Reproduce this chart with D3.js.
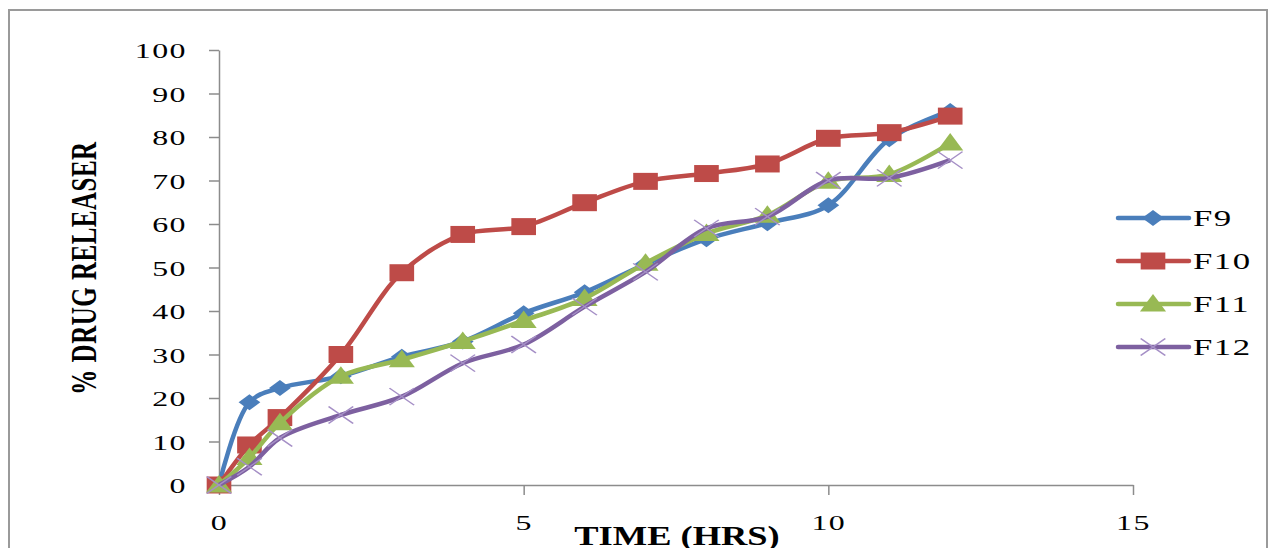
<!DOCTYPE html>
<meta charset="utf-8">
<style>
body { margin: 0; background: #fff; }
.axis path, .axis line { stroke: #8c8c8c; stroke-width: 1.5px; }
.axis text { font-family: "Liberation Serif", serif; font-size: 22px; fill: #000; letter-spacing: 1px; }
.title { font-family: "Liberation Serif", serif; font-weight: bold; font-size: 25px; fill: #000; }
.legend text { font-family: "Liberation Serif", serif; font-size: 24px; fill: #000; letter-spacing: 1px; }
</style>
<svg width="1275" height="548"></svg>
<script src="https://d3js.org/d3.v7.min.js"></script>
<script>

// data
var time = [0, 0.5, 1, 2, 3, 4, 5, 6, 7, 8, 9, 10, 11, 12];
var f9  = [0, 19, 22.3, 25, 29.5, 33, 39.5, 44.3, 50.8, 56.5, 60.2, 64.3, 79.5, 86];
var f10 = [0, 9.2, 15.5, 30, 48.8, 57.6, 59.4, 64.9, 69.8, 71.6, 73.8, 79.7, 81, 84.8];
var f11 = [0, 6.3, 14.3, 25, 28.8, 33, 37.8, 42.9, 51, 57.8, 62, 69.8, 71.4, 78.6];
var f12 = [0, 4.2, 10.8, 16.1, 20.3, 28, 32.3, 41, 49, 59, 61.7, 70, 70.6, 74.7];
var names = ["F9", "F10", "F11", "F12"];
var colors = ["#4a7ebb", "#be4b48", "#98b954", "#7d60a0"];
var shapes = ["diamond", "square", "triangle", "cross"];
var xTicks = [0, 5, 10, 15];
var yTicks = [0, 10, 20, 30, 40, 50, 60, 70, 80, 90, 100];

var sx = 1.45; // the picture is stretched sideways

var svg = d3.select("svg");

// outer frame
svg.append("rect")
    .attr("x", 9).attr("y", 10)
    .attr("width", 1258).attr("height", 560)
    .attr("fill", "none")
    .attr("stroke", "#9a9a9a")
    .attr("stroke-width", 2);

var x = d3.scaleLinear().domain([0, 15]).range([219, 1133]);
var y = d3.scaleLinear().domain([0, 100]).range([485, 50]);

var yAxis = svg.append("g")
    .attr("class", "axis")
    .attr("transform", "translate(" + x(0) + ",0)")
    .call(d3.axisLeft(y).tickValues(yTicks).tickSize(10).tickSizeOuter(0));
yAxis.selectAll("text")
    .attr("x", 0).attr("dy", "0.36em")
    .attr("transform", "translate(-32,0) scale(" + sx + ",1)");

var xAxis = svg.append("g")
    .attr("class", "axis")
    .attr("transform", "translate(0," + y(0) + ")")
    .call(d3.axisBottom(x).tickValues(xTicks).tickSize(10).tickSizeOuter(0));
xAxis.selectAll("text")
    .attr("y", 0).attr("dy", "0.36em")
    .attr("transform", "translate(0,37) scale(" + sx + ",1)");

// axis titles
svg.append("text")
    .attr("class", "title")
    .attr("text-anchor", "middle")
    .attr("letter-spacing", 0.5)
    .attr("transform", "translate(96,268) scale(" + sx + ",1) rotate(-90)")
    .text("% DRUG RELEASER");

svg.append("text")
    .attr("class", "title")
    .attr("text-anchor", "middle")
    .style("font-size", "27px")
    .attr("transform", "translate(677,545) scale(1.35,1)")
    .text("TIME (HRS)");

function markerPath(shape) {
  if (shape == "diamond") return "M0,-8L7.5,0L0,8L-7.5,0Z";
  if (shape == "square") return "M-8.5,-8.5H8.5V8.5H-8.5Z";
  if (shape == "triangle") return "M0,-10L9,7.5L-9,7.5Z";
  return "M-8.5,-8.5L8.5,8.5M-8.5,8.5L8.5,-8.5";
}

function drawMarker(g, shape, color) {
  var p = g.append("path").attr("d", markerPath(shape))
      .attr("transform", "scale(" + sx + ",1)");
  if (shape == "cross") {
    p.attr("fill", "none").attr("stroke", "#a58fc6").attr("stroke-width", 1.2);
  } else {
    p.attr("fill", color);
  }
}

var line = d3.line()
    .x(function(d) { return x(d[0]); })
    .y(function(d) { return y(d[1]); })
    .curve(d3.curveCatmullRom.alpha(0.5));

[f9, f10, f11, f12].forEach(function(vals, i) {
  var pts = time.map(function(t, j) { return [t, vals[j]]; });
  var g = svg.append("g");
  g.append("path")
      .datum(pts)
      .attr("fill", "none")
      .attr("stroke", colors[i])
      .attr("stroke-width", 4.5)
      .attr("stroke-linejoin", "round")
      .attr("d", line);
  g.selectAll("g.m")
    .data(pts)
    .enter().append("g")
      .attr("class", "m")
      .attr("transform", function(d) { return "translate(" + x(d[0]) + "," + y(d[1]) + ")"; })
      .each(function() { drawMarker(d3.select(this), shapes[i], colors[i]); });
});

// legend
var legend = svg.append("g").attr("class", "legend");
names.forEach(function(n, i) {
  var ly = 218 + i * 43;
  var lg = legend.append("g").attr("transform", "translate(0," + ly + ")");
  lg.append("line")
      .attr("x1", 1118).attr("x2", 1189)
      .attr("stroke", colors[i])
      .attr("stroke-width", 4.5)
      .attr("stroke-linecap", "round");
  var m = lg.append("g").attr("transform", "translate(1153,0)");
  drawMarker(m, shapes[i], colors[i]);
  lg.append("text")
      .attr("transform", "translate(1193,0) scale(" + sx + ",1)")
      .attr("dy", "0.35em")
      .text(n);
});

</script>
